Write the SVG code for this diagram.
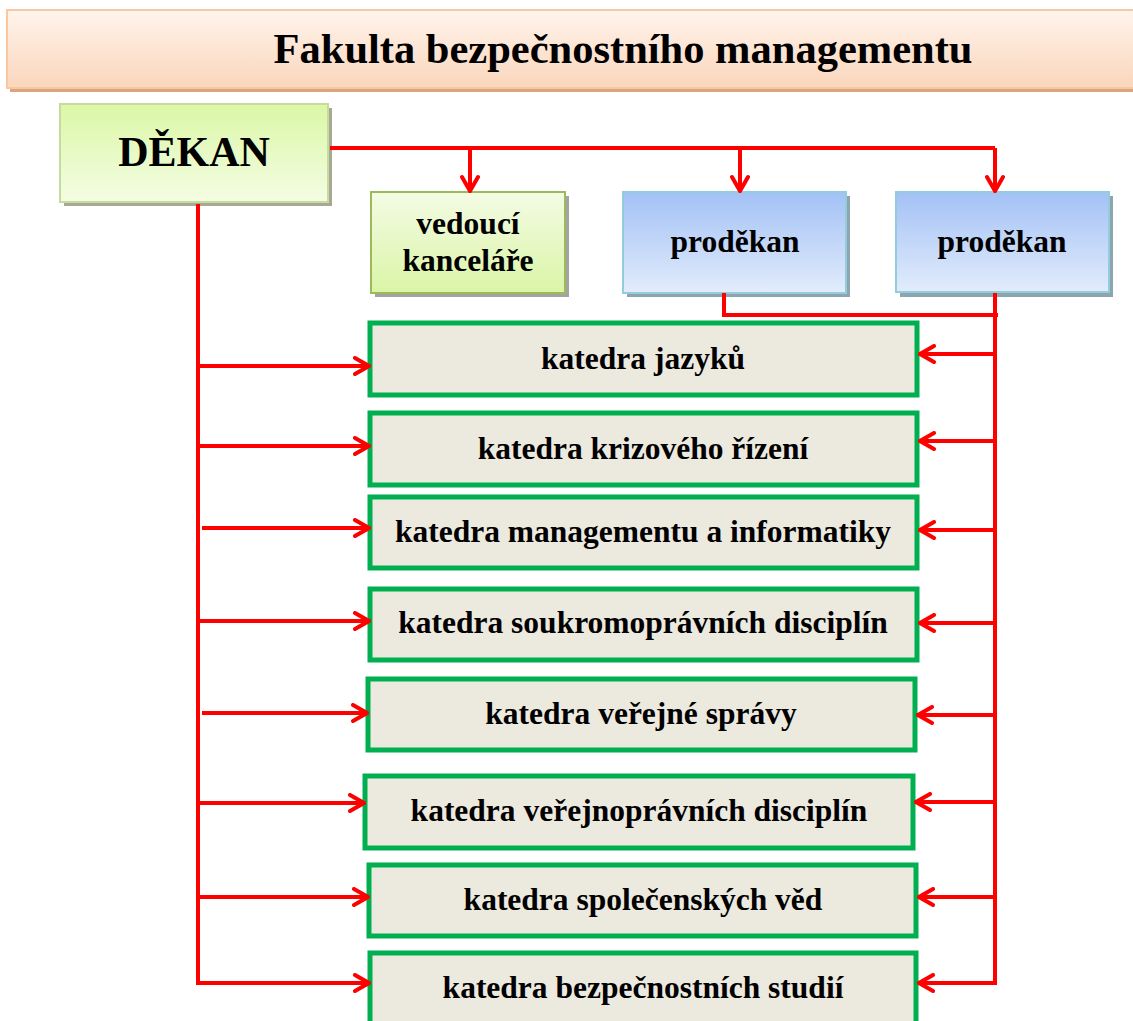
<svg xmlns="http://www.w3.org/2000/svg" width="1133" height="1021" viewBox="0 0 1133 1021">
<defs>
<linearGradient id="gTitle" x1="0" y1="0" x2="0" y2="1"><stop offset="0" stop-color="#FFF4EC"/><stop offset="1" stop-color="#FAD6BC"/></linearGradient>
<linearGradient id="gDekan" x1="0" y1="0" x2="0" y2="1"><stop offset="0" stop-color="#DBF7A6"/><stop offset="1" stop-color="#F4FDE4"/></linearGradient>
<linearGradient id="gVed" x1="0" y1="0" x2="0" y2="1"><stop offset="0" stop-color="#F4FBE4"/><stop offset="1" stop-color="#DAF5A6"/></linearGradient>
<linearGradient id="gPro" x1="0" y1="0" x2="0" y2="1"><stop offset="0" stop-color="#A3C1F5"/><stop offset="1" stop-color="#E2ECFC"/></linearGradient>
<marker id="arr" viewBox="0 0 20 20" refX="18" refY="10" markerWidth="20" markerHeight="20" markerUnits="userSpaceOnUse" orient="auto">
<path d="M4,2 L18,10 L4,18" fill="none" stroke="#FF0000" stroke-width="4" stroke-linecap="round" stroke-linejoin="miter"/>
</marker>
<style>
text{font-family:"Liberation Serif","Times New Roman",serif;font-weight:bold;fill:#000;text-anchor:middle}
.kat rect.box{fill:#ECE9DF;stroke:#00B050;stroke-width:5}
.kat text{font-size:31.5px}
.sm{font-size:31.5px}
.ln{fill:none;stroke:#FF0000;stroke-width:4}
.ar{fill:none;stroke:#FF0000;stroke-width:4;marker-end:url(#arr)}
</style>
</defs>
<rect width="1133" height="1021" fill="#FFFFFF"/>
<g id="title">
<rect x="10" y="13" width="1135" height="79" fill="#D9A47F"/>
<rect x="7" y="10" width="1135" height="78" fill="url(#gTitle)" stroke="#F9C8A2" stroke-width="2"/>
<text x="623" y="63" style="font-size:42.5px">Fakulta bezpečnostního managementu</text>
</g>
<g id="dekan">
<rect x="64" y="108" width="268" height="98" fill="#A8A994"/>
<rect x="60" y="104" width="268" height="98" fill="url(#gDekan)" stroke="#C6DB9E" stroke-width="2"/>
<text x="194" y="166" style="font-size:42px">DĚKAN</text>
</g>
<g id="vedouci">
<rect x="375" y="196" width="194" height="101" fill="#A3A3A3"/>
<rect x="371" y="192" width="194" height="101" fill="url(#gVed)" stroke="#9BBB59" stroke-width="2"/>
<text class="sm" x="468" y="234">vedoucí</text>
<text class="sm" x="468" y="271">kanceláře</text>
</g>
<g id="prodekan1">
<rect x="627" y="196" width="223" height="101" fill="#8DA5AE"/>
<rect x="623" y="192" width="223" height="101" fill="url(#gPro)" stroke="#93CDDD" stroke-width="2"/>
<text class="sm" x="735" y="252">proděkan</text>
</g>
<g id="prodekan2">
<rect x="900" y="196" width="213" height="101" fill="#8DA5AE"/>
<rect x="896" y="192" width="213" height="100" fill="url(#gPro)" stroke="#93CDDD" stroke-width="2"/>
<text class="sm" x="1002" y="252">proděkan</text>
</g>
<g id="k1" class="kat"><rect class="box" x="370" y="323" width="547" height="72"/><text x="643" y="369">katedra jazyků</text></g>
<g id="k2" class="kat"><rect class="box" x="370" y="413" width="547" height="72"/><text x="643" y="459">katedra krizového řízení</text></g>
<g id="k3" class="kat"><rect class="box" x="370" y="497" width="547" height="71"/><text x="643" y="542">katedra managementu a informatiky</text></g>
<g id="k4" class="kat"><rect class="box" x="370" y="589" width="547" height="71"/><text x="643" y="633">katedra soukromoprávních disciplín</text></g>
<g id="k5" class="kat"><rect class="box" x="368" y="679" width="547" height="71"/><text x="641" y="724">katedra veřejné správy</text></g>
<g id="k6" class="kat"><rect class="box" x="365" y="776" width="548" height="72"/><text x="639" y="821">katedra veřejnoprávních disciplín</text></g>
<g id="k7" class="kat"><rect class="box" x="369" y="865" width="547" height="71"/><text x="643" y="910">katedra společenských věd</text></g>
<g id="k8" class="kat"><rect class="box" x="370" y="953" width="546" height="80"/><text x="643" y="998">katedra bezpečnostních studií</text></g>
<g id="connectors">
<path class="ln" d="M330,148 H995"/>
<path class="ar" d="M470,148 V191"/>
<path class="ar" d="M740,148 V191"/>
<path class="ar" d="M995,148 V191"/>
<path class="ln" d="M198,204 V985"/>
<path class="ar" d="M198,366 H369"/>
<path class="ar" d="M198,446 H369"/>
<path class="ar" d="M202,528 H369"/>
<path class="ar" d="M198,621 H369"/>
<path class="ar" d="M202,713 H367"/>
<path class="ar" d="M198,803 H364"/>
<path class="ar" d="M198,897 H368"/>
<path class="ar" d="M198,983 H369"/>
<path class="ln" d="M724,293 V315 H998"/>
<path class="ln" d="M995,293 V985"/>
<path class="ar" d="M995,354 H920"/>
<path class="ar" d="M995,441 H920"/>
<path class="ar" d="M995,530 H920"/>
<path class="ar" d="M995,623 H920"/>
<path class="ar" d="M995,715 H918"/>
<path class="ar" d="M995,802 H916"/>
<path class="ar" d="M995,897 H919"/>
<path class="ar" d="M995,983 H919"/>
</g>
</svg>
